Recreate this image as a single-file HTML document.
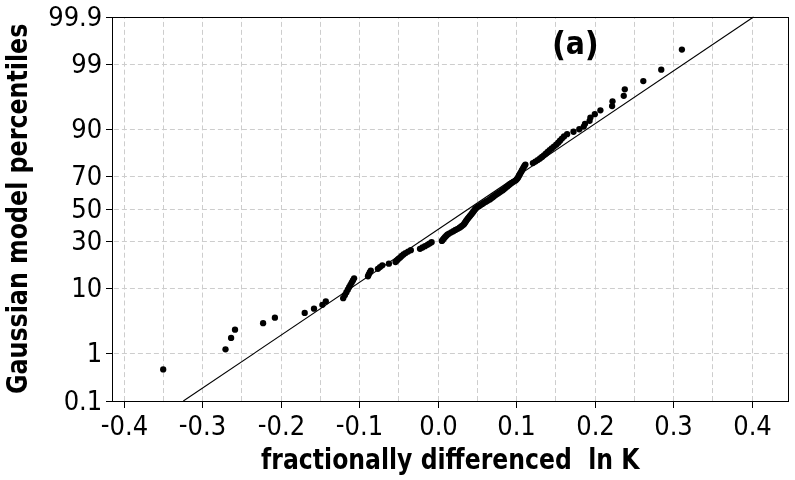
<!DOCTYPE html>
<html><head><meta charset="utf-8"><style>
html,body{margin:0;padding:0;background:#fff;}
svg{display:block;}
.t{font-family:"DejaVu Sans","Liberation Sans",sans-serif;font-stretch:condensed;font-size:27px;fill:#000;}
.b{font-family:"DejaVu Sans","Liberation Sans",sans-serif;font-stretch:condensed;font-weight:bold;fill:#000;}
</style></head><body>
<svg width="795" height="480" viewBox="0 0 795 480">
<rect width="795" height="480" fill="#fff"/>
<g stroke="#cdcdcd" stroke-width="1" stroke-dasharray="5 3" fill="none">
<path d="M124.5 401 V17" stroke-dasharray="4.97 2.99"/>
<path d="M163.5 401 V17" stroke-dasharray="4.97 2.99"/>
<path d="M202.5 401 V17" stroke-dasharray="4.97 2.99"/>
<path d="M241.5 401 V17" stroke-dasharray="4.97 2.99"/>
<path d="M281.5 401 V17" stroke-dasharray="4.97 2.99"/>
<path d="M320.5 401 V17" stroke-dasharray="4.97 2.99"/>
<path d="M359.5 401 V17" stroke-dasharray="4.97 2.99"/>
<path d="M398.5 401 V17" stroke-dasharray="4.97 2.99"/>
<path d="M438.5 401 V17" stroke-dasharray="4.97 2.99"/>
<path d="M477.5 401 V17" stroke-dasharray="4.97 2.99"/>
<path d="M516.5 401 V17" stroke-dasharray="4.97 2.99"/>
<path d="M555.5 401 V17" stroke-dasharray="4.97 2.99"/>
<path d="M595.5 401 V17" stroke-dasharray="4.97 2.99"/>
<path d="M634.5 401 V17" stroke-dasharray="4.97 2.99"/>
<path d="M673.5 401 V17" stroke-dasharray="4.97 2.99"/>
<path d="M712.5 401 V17" stroke-dasharray="4.97 2.99"/>
<path d="M752.5 401 V17" stroke-dasharray="4.97 2.99"/>
<path d="M113.9 64.5 H788"/>
<path d="M113.9 129.5 H788"/>
<path d="M113.9 176.5 H788"/>
<path d="M113.9 209.5 H788"/>
<path d="M113.9 241.5 H788"/>
<path d="M113.9 288.5 H788"/>
<path d="M113.9 353.5 H788"/>
</g>
<g stroke="#000" stroke-width="1" fill="none">
<rect x="112.5" y="17.5" width="676" height="384"/>
<path d="M106 17.5 H112"/>
<path d="M106 64.5 H112"/>
<path d="M106 129.5 H112"/>
<path d="M106 176.5 H112"/>
<path d="M106 209.5 H112"/>
<path d="M106 241.5 H112"/>
<path d="M106 288.5 H112"/>
<path d="M106 353.5 H112"/>
<path d="M106 401.5 H112"/>
<path d="M124.5 401 V408"/>
<path d="M202.5 401 V408"/>
<path d="M281.5 401 V408"/>
<path d="M359.5 401 V408"/>
<path d="M438.5 401 V408"/>
<path d="M516.5 401 V408"/>
<path d="M595.5 401 V408"/>
<path d="M673.5 401 V408"/>
<path d="M752.5 401 V408"/>
</g>
<line x1="183.3" y1="401" x2="753.5" y2="17" stroke="#000" stroke-width="1.1"/>
<g fill="#000">
<circle cx="163.20" cy="369.45" r="3.15"/>
<circle cx="225.50" cy="349.35" r="3.15"/>
<circle cx="231.10" cy="337.92" r="3.15"/>
<circle cx="235.00" cy="329.68" r="3.15"/>
<circle cx="263.10" cy="323.13" r="3.15"/>
<circle cx="274.90" cy="317.64" r="3.15"/>
<circle cx="304.70" cy="312.88" r="3.15"/>
<circle cx="314.00" cy="308.67" r="3.15"/>
<circle cx="322.40" cy="304.86" r="3.15"/>
<circle cx="325.80" cy="301.39" r="3.15"/>
<circle cx="343.20" cy="298.18" r="3.15"/>
<circle cx="344.80" cy="295.19" r="3.15"/>
<circle cx="346.33" cy="292.38" r="3.15"/>
<circle cx="347.78" cy="289.74" r="3.15"/>
<circle cx="349.15" cy="287.23" r="3.15"/>
<circle cx="350.46" cy="284.85" r="3.15"/>
<circle cx="351.71" cy="282.57" r="3.15"/>
<circle cx="352.91" cy="280.38" r="3.15"/>
<circle cx="354.10" cy="278.28" r="3.15"/>
<circle cx="368.00" cy="276.26" r="3.15"/>
<circle cx="368.80" cy="274.30" r="3.15"/>
<circle cx="369.80" cy="272.40" r="3.15"/>
<circle cx="370.80" cy="270.57" r="3.15"/>
<circle cx="377.90" cy="268.78" r="3.15"/>
<circle cx="380.00" cy="267.04" r="3.15"/>
<circle cx="382.30" cy="265.35" r="3.15"/>
<circle cx="388.90" cy="263.69" r="3.15"/>
<circle cx="395.50" cy="262.08" r="3.15"/>
<circle cx="397.00" cy="260.50" r="3.15"/>
<circle cx="398.40" cy="258.95" r="3.15"/>
<circle cx="400.20" cy="257.43" r="3.15"/>
<circle cx="401.70" cy="255.94" r="3.15"/>
<circle cx="403.50" cy="254.47" r="3.15"/>
<circle cx="405.50" cy="253.03" r="3.15"/>
<circle cx="408.10" cy="251.62" r="3.15"/>
<circle cx="410.80" cy="250.22" r="3.15"/>
<circle cx="420.00" cy="248.85" r="3.15"/>
<circle cx="422.50" cy="247.49" r="3.15"/>
<circle cx="425.00" cy="246.15" r="3.15"/>
<circle cx="427.50" cy="244.83" r="3.15"/>
<circle cx="429.50" cy="243.53" r="3.15"/>
<circle cx="431.60" cy="242.24" r="3.15"/>
<circle cx="441.90" cy="240.96" r="3.15"/>
<circle cx="442.86" cy="239.70" r="3.15"/>
<circle cx="443.86" cy="238.44" r="3.15"/>
<circle cx="444.94" cy="237.20" r="3.15"/>
<circle cx="446.15" cy="235.98" r="3.15"/>
<circle cx="447.35" cy="234.76" r="3.15"/>
<circle cx="449.04" cy="233.55" r="3.15"/>
<circle cx="451.32" cy="232.35" r="3.15"/>
<circle cx="453.42" cy="231.16" r="3.15"/>
<circle cx="455.52" cy="229.97" r="3.15"/>
<circle cx="457.72" cy="228.80" r="3.15"/>
<circle cx="459.60" cy="227.63" r="3.15"/>
<circle cx="461.25" cy="226.47" r="3.15"/>
<circle cx="462.73" cy="225.31" r="3.15"/>
<circle cx="463.97" cy="224.16" r="3.15"/>
<circle cx="464.82" cy="223.01" r="3.15"/>
<circle cx="465.53" cy="221.87" r="3.15"/>
<circle cx="466.24" cy="220.73" r="3.15"/>
<circle cx="467.03" cy="219.60" r="3.15"/>
<circle cx="467.95" cy="218.47" r="3.15"/>
<circle cx="468.87" cy="217.34" r="3.15"/>
<circle cx="469.79" cy="216.22" r="3.15"/>
<circle cx="470.70" cy="215.09" r="3.15"/>
<circle cx="471.62" cy="213.97" r="3.15"/>
<circle cx="472.47" cy="212.85" r="3.15"/>
<circle cx="473.30" cy="211.73" r="3.15"/>
<circle cx="474.13" cy="210.62" r="3.15"/>
<circle cx="474.96" cy="209.50" r="3.15"/>
<circle cx="475.79" cy="208.38" r="3.15"/>
<circle cx="477.28" cy="207.27" r="3.15"/>
<circle cx="479.01" cy="206.15" r="3.15"/>
<circle cx="480.70" cy="205.03" r="3.15"/>
<circle cx="482.36" cy="203.91" r="3.15"/>
<circle cx="484.03" cy="202.78" r="3.15"/>
<circle cx="485.96" cy="201.66" r="3.15"/>
<circle cx="487.89" cy="200.53" r="3.15"/>
<circle cx="489.83" cy="199.40" r="3.15"/>
<circle cx="491.33" cy="198.27" r="3.15"/>
<circle cx="492.80" cy="197.13" r="3.15"/>
<circle cx="494.30" cy="195.99" r="3.15"/>
<circle cx="495.95" cy="194.84" r="3.15"/>
<circle cx="497.60" cy="193.69" r="3.15"/>
<circle cx="499.34" cy="192.53" r="3.15"/>
<circle cx="501.16" cy="191.37" r="3.15"/>
<circle cx="502.77" cy="190.20" r="3.15"/>
<circle cx="504.24" cy="189.03" r="3.15"/>
<circle cx="505.70" cy="187.84" r="3.15"/>
<circle cx="507.06" cy="186.65" r="3.15"/>
<circle cx="508.44" cy="185.45" r="3.15"/>
<circle cx="509.95" cy="184.24" r="3.15"/>
<circle cx="511.67" cy="183.02" r="3.15"/>
<circle cx="513.53" cy="181.80" r="3.15"/>
<circle cx="515.58" cy="180.56" r="3.15"/>
<circle cx="516.78" cy="179.30" r="3.15"/>
<circle cx="517.77" cy="178.04" r="3.15"/>
<circle cx="518.44" cy="176.76" r="3.15"/>
<circle cx="519.10" cy="175.47" r="3.15"/>
<circle cx="519.81" cy="174.17" r="3.15"/>
<circle cx="520.59" cy="172.85" r="3.15"/>
<circle cx="521.38" cy="171.51" r="3.15"/>
<circle cx="522.10" cy="170.15" r="3.15"/>
<circle cx="522.83" cy="168.78" r="3.15"/>
<circle cx="523.57" cy="167.38" r="3.15"/>
<circle cx="524.47" cy="165.97" r="3.15"/>
<circle cx="525.40" cy="164.53" r="3.15"/>
<circle cx="532.90" cy="163.06" r="3.15"/>
<circle cx="535.38" cy="161.57" r="3.15"/>
<circle cx="537.72" cy="160.05" r="3.15"/>
<circle cx="540.05" cy="158.50" r="3.15"/>
<circle cx="542.01" cy="156.92" r="3.15"/>
<circle cx="543.92" cy="155.31" r="3.15"/>
<circle cx="545.81" cy="153.65" r="3.15"/>
<circle cx="547.68" cy="151.96" r="3.15"/>
<circle cx="549.65" cy="150.22" r="3.15"/>
<circle cx="551.74" cy="148.43" r="3.15"/>
<circle cx="553.90" cy="146.60" r="3.15"/>
<circle cx="556.18" cy="144.70" r="3.15"/>
<circle cx="558.18" cy="142.74" r="3.15"/>
<circle cx="559.99" cy="140.72" r="3.15"/>
<circle cx="561.91" cy="138.62" r="3.15"/>
<circle cx="564.02" cy="136.43" r="3.15"/>
<circle cx="567.10" cy="134.15" r="3.15"/>
<circle cx="573.50" cy="131.77" r="3.15"/>
<circle cx="579.30" cy="129.26" r="3.15"/>
<circle cx="583.75" cy="126.62" r="3.15"/>
<circle cx="585.00" cy="123.81" r="3.15"/>
<circle cx="589.60" cy="120.82" r="3.15"/>
<circle cx="590.40" cy="117.61" r="3.15"/>
<circle cx="594.80" cy="114.14" r="3.15"/>
<circle cx="600.40" cy="110.33" r="3.15"/>
<circle cx="612.10" cy="106.12" r="3.15"/>
<circle cx="612.50" cy="101.36" r="3.15"/>
<circle cx="623.75" cy="95.87" r="3.15"/>
<circle cx="624.80" cy="89.32" r="3.15"/>
<circle cx="643.30" cy="81.08" r="3.15"/>
<circle cx="661.25" cy="69.65" r="3.15"/>
<circle cx="681.90" cy="49.55" r="3.15"/>
</g>
<g class="t">
<text x="102.3" y="26.1" text-anchor="end" textLength="54.08" lengthAdjust="spacingAndGlyphs">99.9</text>
<text x="102.3" y="73.1" text-anchor="end" textLength="30.91" lengthAdjust="spacingAndGlyphs">99</text>
<text x="102.3" y="138.1" text-anchor="end" textLength="30.91" lengthAdjust="spacingAndGlyphs">90</text>
<text x="102.3" y="185.1" text-anchor="end" textLength="30.91" lengthAdjust="spacingAndGlyphs">70</text>
<text x="102.3" y="218.1" text-anchor="end" textLength="30.91" lengthAdjust="spacingAndGlyphs">50</text>
<text x="102.3" y="250.1" text-anchor="end" textLength="30.91" lengthAdjust="spacingAndGlyphs">30</text>
<text x="102.3" y="297.1" text-anchor="end" textLength="30.91" lengthAdjust="spacingAndGlyphs">10</text>
<text x="102.3" y="362.1" text-anchor="end" textLength="15.45" lengthAdjust="spacingAndGlyphs">1</text>
<text x="102.3" y="410.1" text-anchor="end" textLength="38.62" lengthAdjust="spacingAndGlyphs">0.1</text>
<text x="124.5" y="434.5" text-anchor="middle" textLength="47.39" lengthAdjust="spacingAndGlyphs"><tspan dy="-1.8">-</tspan><tspan dy="1.8">0.4</tspan></text>
<text x="202.5" y="434.5" text-anchor="middle" textLength="47.39" lengthAdjust="spacingAndGlyphs"><tspan dy="-1.8">-</tspan><tspan dy="1.8">0.3</tspan></text>
<text x="281.5" y="434.5" text-anchor="middle" textLength="47.39" lengthAdjust="spacingAndGlyphs"><tspan dy="-1.8">-</tspan><tspan dy="1.8">0.2</tspan></text>
<text x="359.5" y="434.5" text-anchor="middle" textLength="47.39" lengthAdjust="spacingAndGlyphs"><tspan dy="-1.8">-</tspan><tspan dy="1.8">0.1</tspan></text>
<text x="438.5" y="434.5" text-anchor="middle" textLength="38.62" lengthAdjust="spacingAndGlyphs">0.0</text>
<text x="516.5" y="434.5" text-anchor="middle" textLength="38.62" lengthAdjust="spacingAndGlyphs">0.1</text>
<text x="595.5" y="434.5" text-anchor="middle" textLength="38.62" lengthAdjust="spacingAndGlyphs">0.2</text>
<text x="673.5" y="434.5" text-anchor="middle" textLength="38.62" lengthAdjust="spacingAndGlyphs">0.3</text>
<text x="752.5" y="434.5" text-anchor="middle" textLength="38.62" lengthAdjust="spacingAndGlyphs">0.4</text>
</g>
<text class="b" style="white-space:pre" x="450.3" y="468.6" text-anchor="middle" font-size="28" textLength="378.4" lengthAdjust="spacingAndGlyphs">fractionally differenced  ln K</text>
<text class="b" transform="translate(26.5 208.8) rotate(-90)" text-anchor="middle" font-size="28" textLength="370.3" lengthAdjust="spacingAndGlyphs">Gaussian model percentiles</text>
<text class="b"><tspan x="551.9" y="55.8" font-size="34">(</tspan><tspan x="565.7" y="53.9" font-size="31.5">a</tspan><tspan x="584.8" y="55.8" font-size="34">)</tspan></text>
</svg>
</body></html>
